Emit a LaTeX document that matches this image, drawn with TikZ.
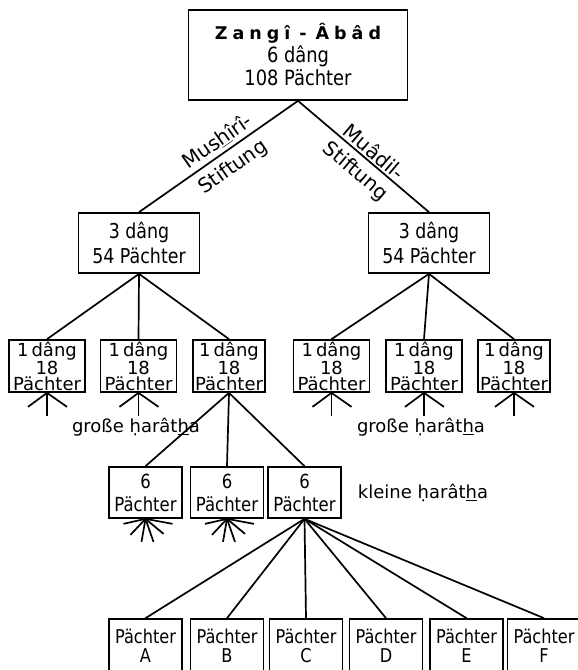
\documentclass[tikz,border=0pt]{standalone}
\usepackage{fontspec}
\setmainfont{DejaVu Sans}
\newfontfamily\boxfont{DejaVu Sans}[FakeStretch=0.85]
\newcommand{\ubar}[1]{\underline{#1}}
\newcommand{\lsp}{\hspace{5pt}}

\begin{document}
\begin{tikzpicture}[x=1pt,y=-1pt,line width=1.7pt,
	box/.style={draw,line width=1.7pt,align=center,inner sep=0pt},
	topbox/.style={box,minimum width=219pt,minimum height=90pt,font=\boxfont\fontsize{21}{23}\selectfont},
	midbox/.style={box,minimum width=121pt,minimum height=60pt,font=\boxfont\fontsize{20.5}{25}\selectfont},
	dangbox/.style={box,minimum width=76pt,minimum height=52pt,font=\fontsize{18}{16}\selectfont},
	sixbox/.style={box,minimum width=73pt,minimum height=51pt,font=\boxfont\fontsize{19.4}{23}\selectfont},
	leafbox/.style={box,minimum width=73pt,minimum height=54pt,font=\boxfont\fontsize{19}{19}\selectfont},
	lbl/.style={inner sep=0pt,font=\fontsize{18}{20}\selectfont},
	slbl/.style={sloped,inner sep=0pt,font=\fontsize{20}{22}\selectfont}]

	\useasboundingbox (0,0) rectangle (578,670);
	\clip (0,0) rectangle (578,670);

	% village
	\node[topbox] (top) at (298,55){{\rmfamily\bfseries\fontsize{17.5}{23}\selectfont Z\lsp a\lsp n\lsp g\lsp î\hspace{9pt}-\hspace{9pt}Â\lsp b\lsp â\lsp d}\\6 dâng\\108 Pächter};

	% waqf halves
	\node[midbox] (midL) at (139,243){3 dâng\\54 Pächter};
	\node[midbox] (midR) at (429,243){3 dâng\\54 Pächter};

	\draw (midL.north) -- node[slbl,above=3.5pt,pos=0.54] (stiftLa) {Mus\ubar{h}îrî-} node[slbl,below=7pt,pos=0.53] (stiftLb) {Stiftung} (top.south);
	\draw (top.south) -- node[slbl,above=2pt,pos=0.53] (stiftRa) {Muâdil-} node[slbl,below=6.5pt,pos=0.52] (stiftRb) {Stiftung} (midR.north);

	% grosse haratha
	\node[dangbox] (a1) at (47,366){1\,dâng\\18\\Pächter};
	\node[dangbox] (a2) at (138.5,366){1\,dâng\\18\\Pächter};
	\node[dangbox,minimum width=72pt] (a3) at (229,366){1\,dâng\\18\\Pächter};
	\node[dangbox] (b1) at (331.5,366){1\,dâng\\18\\Pächter};
	\node[dangbox] (b2) at (424,366){1\,dâng\\18\\Pächter};
	\node[dangbox,minimum width=72pt] (b3) at (514,366){1\,dâng\\18\\Pächter};

	\foreach \n in {a1,a2,a3} \draw (midL.south) -- (\n.north);
	\foreach \n in {b1,b2,b3} \draw (midR.south) -- (\n.north);
	\foreach \n in {a1,a2,b1,b2,b3}
		\foreach \dx/\dy in {-19/14,0/23,20/14} \draw (\n.south) -- ++(\dx,\dy);

	\node[lbl] (grossL) at (136,427){große \d{h}arât\ubar{h}a};
	\node[lbl] (grossR) at (421,427){große \d{h}arât\ubar{h}a};

	% kleine haratha
	\node[sixbox] (c1) at (145.5,492.5){6\\Pächter};
	\node[sixbox] (c2) at (227,492.5){6\\Pächter};
	\node[sixbox] (c3) at (304.5,492.5){6\\Pächter};
	\foreach \n in {c1,c2,c3} \draw (a3.south) -- (\n.north);
	\foreach \n in {c1,c2}
		\foreach \dx/\dy in {-22/5,-15/16,-4/23,8/23,18/15,27/5} \draw (\n.south) -- ++(\dx,\dy);

	\node[lbl] (klein) at (423,493){kleine \d{h}arât\ubar{h}a};

	% single tenants
	\node[leafbox] (pA) at (145.5,646){Pächter\\A};
	\node[leafbox] (pB) at (227,646){Pächter\\B};
	\node[leafbox] (pC) at (306,646){Pächter\\C};
	\node[leafbox] (pD) at (386,646){Pächter\\D};
	\node[leafbox] (pE) at (466.5,646){Pächter\\E};
	\node[leafbox] (pF) at (544,646){Pächter\\F};
	\foreach \n in {pA,pB,pC,pD,pE,pF} \draw (c3.south) -- (\n.north);

	%\node[] at (300,660){};
\end{tikzpicture}
\end{document}
